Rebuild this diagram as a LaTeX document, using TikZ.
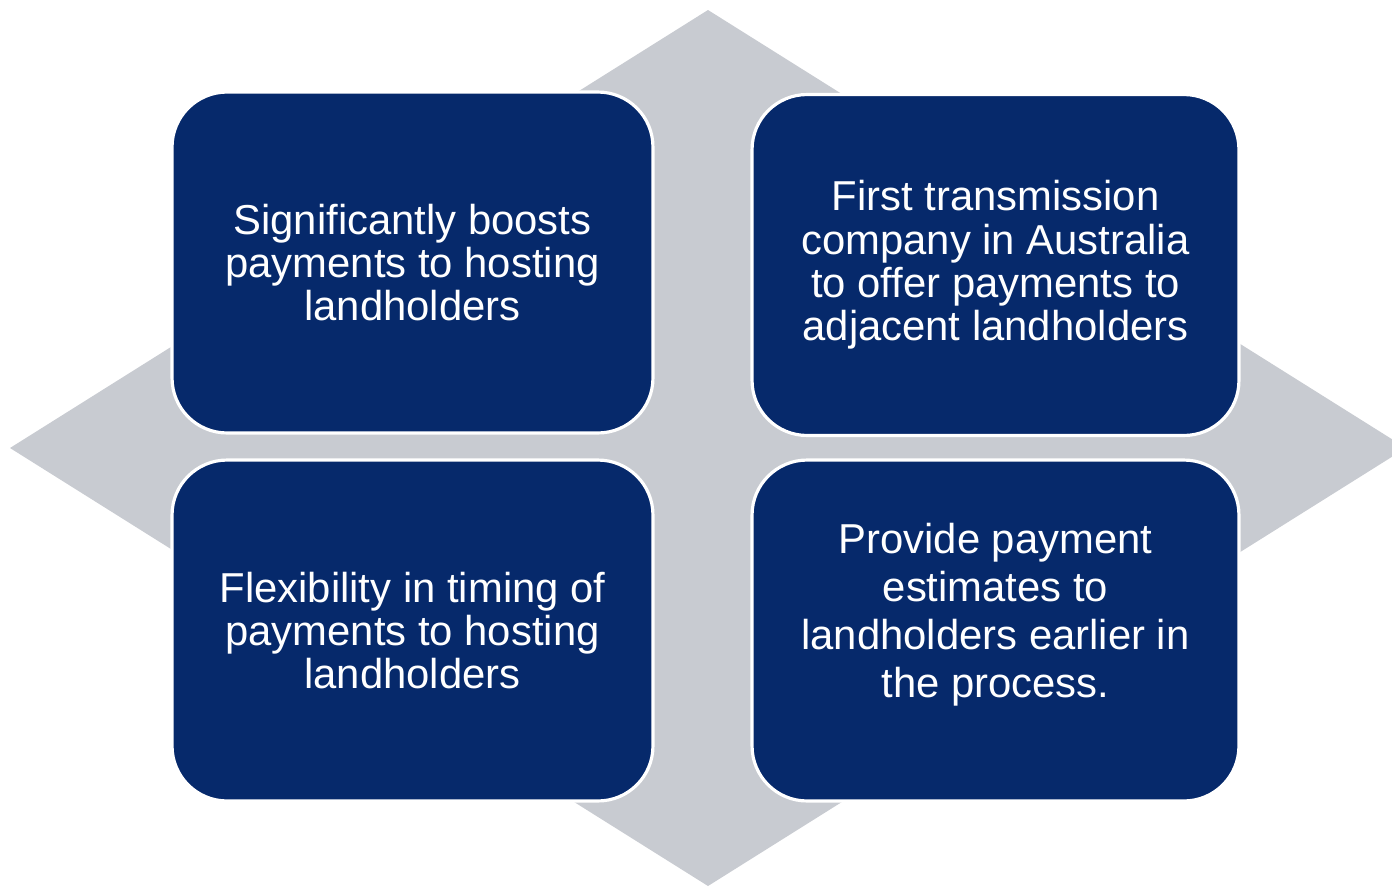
\documentclass[tikz,border=0pt]{standalone}
\usepackage{fontspec}
\setmainfont{Liberation Sans}
\usepackage{xcolor}
\definecolor{navy}{RGB}{6,41,107}
\definecolor{diamondgray}{RGB}{200,203,209}
\tikzset{tile/.style={rectangle, rounded corners=1.1cm, fill=navy, draw=white, line width=1.8pt, text=white, align=center, inner sep=0pt, font=\fontsize{23.8}{24.7}\selectfont}}
\tikzset{wide/.style={minimum width=9.62cm, minimum height=6.82cm}}
\tikzset{wider/.style={minimum width=9.74cm, minimum height=6.82cm}}

\begin{document}
\begin{tikzpicture}[x=0.02cm, y=-0.02cm]
  \useasboundingbox (0,0) rectangle (1392,886);
  \clip (0,0) rectangle (1392,886);

  % grey diamond behind the tiles
  \fill[diamondgray] (708,10) -- (10,448) -- (708,886) -- (1406,448) -- cycle;

  \node[tile, wide] (boosts) at (412.5,262.5) {Significantly boosts\\payments to hosting\\landholders};
  \node[tile, wider] (first) at (995.5,265) {First transmission\\company in Australia\\to offer payments to\\adjacent landholders};
  \node[tile, wide] (timing) at (412.5,630.5) {Flexibility in timing of\\payments to hosting\\landholders};
  \node[tile, wider] (estimates) at (995.5,630.5) {};
  \node[text=white, align=center, font=\fontsize{23.8}{27.3}\selectfont] (estimatestext) at (995.5,615) {Provide payment\\estimates to\\landholders earlier in\\the process.};
\end{tikzpicture}
\end{document}
